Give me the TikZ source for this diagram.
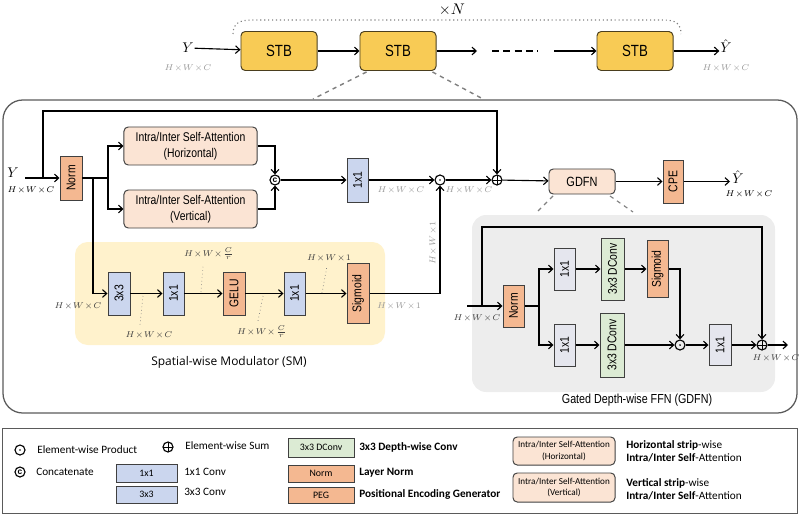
\documentclass[tikz,border=0pt]{standalone}
\usepackage{fontspec}
\setmainfont{Liberation Sans}
\newfontfamily\narrowsf[FakeStretch=0.82]{Liberation Sans}
\newfontfamily\legendsf{Carlito}
\newfontfamily\titlesf{Open Sans}
\usetikzlibrary{arrows.meta}
\definecolor{stbyellow}{HTML}{F8CB55}
\definecolor{stbedge}{HTML}{4A3E1E}
\definecolor{salmon}{HTML}{F4B891}
\definecolor{peach}{HTML}{FBE4D4}
\definecolor{convblue}{HTML}{CBD6EE}
\definecolor{convgray}{HTML}{E5E6EE}
\definecolor{dconvgreen}{HTML}{DCEBD4}
\definecolor{smbg}{HTML}{FFF2CC}
\definecolor{gdfnbg}{HTML}{EDEDED}
\definecolor{edgegray}{HTML}{404040}
\definecolor{dimgray}{HTML}{9A9A9A}
\definecolor{framegray}{HTML}{5A5A5A}
\newcommand{\vlab}[1]{\rotatebox{90}{#1}}
\newcommand{\hwc}{$H\!\times\!W\!\times\!C$}
\newcommand{\hwr}{$H\!\times\!W\!\times\!\frac{C}{r}$}
\newcommand{\hwone}{$H\!\times\!W\!\times\!1$}
\tikzset{
  blk/.style={draw=edgegray, line width=0.7pt, inner sep=0pt, font=\narrowsf\fontsize{9}{10}\selectfont},
  stbbox/.style={blk, fill=stbyellow, draw=stbedge, rounded corners=3pt, minimum width=1.9cm, minimum height=0.975cm, font=\narrowsf\fontsize{11.5}{12}\selectfont},
  attbox/.style={blk, fill=peach, rounded corners=3pt, minimum width=3.325cm, minimum height=0.95cm, align=center, font=\narrowsf\fontsize{9}{11.5}\selectfont},
  normbox/.style={blk, fill=salmon},
  convbox/.style={blk, fill=convblue},
  gconvbox/.style={blk, fill=convgray},
  dconvbox/.style={blk, fill=dconvgreen},
  opnode/.style={circle, draw, line width=0.8pt, minimum size=0.25cm, inner sep=0pt},
  sumop/.style={opnode, path picture={\draw[line width=0.6pt] (path picture bounding box.north) -- (path picture bounding box.south) (path picture bounding box.west) -- (path picture bounding box.east);}},
  prodop/.style={opnode, path picture={\fill (path picture bounding box.center) circle (0.7pt);}},
  catop/.style={opnode, font=\bfseries\fontsize{6}{6}\selectfont},
  arr/.style={-{Straight Barb[length=3pt,width=5.5pt]}, line width=0.8pt},
  link/.style={line width=0.8pt},
  mathlab/.style={inner sep=0.5pt, font=\fontsize{10}{11}\selectfont},
  dimlab/.style={inner sep=0.5pt, font=\fontsize{6}{7}\selectfont, text=dimgray},
  smlab/.style={inner sep=0.5pt, font=\fontsize{6}{7}\selectfont, text=edgegray},
  leader/.style={dotted, gray, line width=0.5pt},
  zoomline/.style={dashed, gray, line width=1pt},
  lgtext/.style={anchor=west, inner sep=0pt, font=\legendsf\fontsize{8}{9.5}\selectfont, align=left},
  lgbox/.style={draw=edgegray, line width=0.7pt, inner sep=0pt, font=\legendsf\fontsize{7}{8}\selectfont}
}
\begin{document}
\begin{tikzpicture}[x=0.025cm,y=-0.025cm]
\useasboundingbox (0,0) rectangle (800,519);
% top chain
\node[stbbox] (stbA) at (279,51) {STB};
\node[stbbox] (stbB) at (398,51) {STB};
\node[stbbox] (stbC) at (635,51) {STB};
\node[mathlab] (ytop) at (188,48) {$Y$};
\node[dimlab] at (188,68) {\hwc};
\node[mathlab] (ytophat) at (726,46) {$\hat{Y}$};
\node[dimlab] at (726,68) {\hwc};
\node[mathlab, font=\fontsize{11}{12}\selectfont] (times) at (452,10) {$\times N$};
\coordinate (chainA) at (477,51);
\coordinate (dashA) at (492,51);
\coordinate (dashB) at (538,51);
\coordinate (chainB) at (554,51);
\draw[arr] (ytop) -- (stbA);
\draw[arr] (stbA) -- (stbB);
\draw[arr] (stbB) -- (chainA);
\draw[line width=1.2pt, dash pattern=on 5pt off 3pt] (dashA) -- (dashB);
\draw[arr] (chainB) -- (stbC);
\draw[arr] (stbC) -- (ytophat.west |- stbC);
\draw[dotted, gray, line width=0.8pt] (233,34) .. controls (233,23) and (240,20) .. (252,20) -- (664,20) .. controls (676,20) and (681,24) .. (681,34);
% block frame
\draw[framegray, line width=0.9pt, rounded corners=14pt] (3,100) rectangle (797,413);
\draw[zoomline] (stbB.south west) ++(7,1) -- (313,99);
\draw[zoomline] (stbB.south east) ++(-4,1) -- (483,99);
\fill[smbg, rounded corners=9pt] (75,242) rectangle (385,345);
\fill[gdfnbg, rounded corners=10pt] (472,215) rectangle (775,392);
% main path
\node[mathlab] (yin) at (13,173) {$Y$};
\node[smlab, text=black] at (31,190) {\hwc};
\coordinate (yinstart) at (25,178);
\coordinate (resid) at (43,178);
\coordinate (residtop) at (43,111);
\coordinate (smsplit) at (93,178);
\coordinate (split) at (108,178);
\node[normbox, minimum width=0.55cm, minimum height=1.1cm] (norm) at (71,178) {\vlab{Norm}};
\node[attbox] (attH) at (190.5,146) {Intra/Inter Self-Attention\\(Horizontal)};
\node[attbox] (attV) at (190.5,209) {Intra/Inter Self-Attention\\(Vertical)};
\node[catop] (cat) at (275,180) {c};
\node[convbox, minimum width=0.525cm, minimum height=1.1cm] (conv) at (357.5,180) {\vlab{1x1}};
\node[prodop] (prod) at (440,180) {};
\node[sumop] (sum) at (497,180) {};
\node[attbox, minimum width=1.65cm, minimum height=0.625cm, font=\narrowsf\fontsize{9.5}{10}\selectfont] (gdfn) at (582,181.5) {GDFN};
\node[normbox, minimum width=0.5cm, minimum height=1.075cm] (cpe) at (673,181.5) {\vlab{CPE}};
\coordinate (yout) at (730,181.5);
\node[mathlab] (youthat) at (738,177) {$\hat{Y}$};
\node[smlab, text=black] at (749,194) {\hwc};
\node[dimlab] at (401,190) {\hwc};
\node[dimlab] at (469,190) {\hwc};
\draw[arr] (yinstart) -- (norm);
\draw[arr] (resid) -- (residtop) -| (sum);
\draw[link] (norm) -- (split);
\draw[arr] (split) |- (attH);
\draw[arr] (split) |- (attV);
\draw[arr] (attH) -| (cat);
\draw[arr] (attV) -| (cat);
\draw[arr] (cat) -- (conv);
\draw[arr] (conv) -- (prod);
\draw[arr] (prod) -- (sum);
\draw[arr] (sum) -- (gdfn);
\draw[arr] (gdfn) -- (cpe);
\draw[arr] (cpe) -- (yout);
\draw[zoomline, line width=0.8pt] (553,196) -- (537,212);
\draw[zoomline, line width=0.8pt] (610,196) -- (633,212);
% spatial-wise modulator
\node[convbox, minimum width=0.55cm, minimum height=1.075cm] (smconvA) at (119,293.5) {\vlab{3x3}};
\node[convbox, minimum width=0.525cm, minimum height=1.075cm] (smconvB) at (173.5,293.5) {\vlab{1x1}};
\node[normbox, minimum width=0.55cm, minimum height=1.075cm] (gelu) at (234,293.5) {\vlab{GELU}};
\node[convbox, minimum width=0.525cm, minimum height=1.075cm] (smconvC) at (294.5,293.5) {\vlab{1x1}};
\node[normbox, minimum width=0.55cm, minimum height=1.5cm] (smsig) at (358,293.5) {\vlab{Sigmoid}};
\draw[arr] (smsplit) |- (smconvA);
\draw[arr] (smconvA) -- (smconvB);
\draw[arr] (smconvB) -- (gelu);
\draw[arr] (gelu) -- (smconvC);
\draw[arr] (smconvC) -- (smsig);
\draw[arr] (smsig) -| (prod);
\node[smlab] at (78,306) {\hwc};
\node[smlab] at (149,335) {\hwc};
\node[smlab] at (209,254) {\hwr};
\node[smlab] at (262,332) {\hwr};
\node[smlab] at (329,258) {\hwone};
\node[dimlab] at (399,306) {\hwone};
\node[dimlab, rotate=90] at (433,243) {\hwone};
\draw[leader] (143,296) -- (140,325);
\draw[leader] (201,292) -- (203,266);
\draw[leader] (263,296) -- (258,321);
\draw[leader] (322,293) -- (327,266);
\node[font=\titlesf\fontsize{8.5}{10}\selectfont] (smtitle) at (229,362) {Spatial-wise Modulator (SM)};
% gated depth-wise ffn
\coordinate (gin) at (467,306);
\coordinate (gres) at (482,306);
\coordinate (grestop) at (482,227);
\coordinate (gsplit) at (539,306);
\coordinate (gout) at (788,345);
\node[normbox, minimum width=0.525cm, minimum height=1.05cm] (gnorm) at (513.5,306) {\vlab{Norm}};
\node[gconvbox, minimum width=0.525cm, minimum height=1.05cm] (gconvA) at (564.5,269) {\vlab{1x1}};
\node[gconvbox, minimum width=0.525cm, minimum height=1.05cm] (gconvB) at (564.5,345) {\vlab{1x1}};
\node[dconvbox, minimum width=0.575cm, minimum height=1.55cm] (gdconvA) at (612.5,269) {\vlab{3x3 DConv}};
\node[dconvbox, minimum width=0.6cm, minimum height=1.6cm] (gdconvB) at (612,345) {\vlab{3x3 DConv}};
\node[normbox, minimum width=0.525cm, minimum height=1.425cm] (gsig) at (657.5,269) {\vlab{Sigmoid}};
\node[prodop] (gprod) at (680,345) {};
\node[gconvbox, minimum width=0.55cm, minimum height=1.025cm] (gconvC) at (720,345) {\vlab{1x1}};
\node[sumop] (gsum) at (762,345) {};
\node[smlab] at (477,318) {\hwc};
\node[smlab] at (776,358) {\hwc};
\draw[arr] (gin) -- (gnorm);
\draw[arr] (gres) -- (grestop) -| (gsum);
\draw[link] (gnorm) -- (gsplit);
\draw[arr] (gsplit) |- (gconvA);
\draw[arr] (gsplit) |- (gconvB);
\draw[arr] (gconvA) -- (gdconvA);
\draw[arr] (gdconvA) -- (gsig);
\draw[arr] (gsig) -| (gprod);
\draw[arr] (gconvB) -- (gdconvB);
\draw[arr] (gdconvB) -- (gprod);
\draw[arr] (gprod) -- (gconvC);
\draw[arr] (gconvC) -- (gsum);
\draw[arr] (gsum) -- (gout);
\node[font=\narrowsf\fontsize{9.3}{10}\selectfont] (gtitle) at (637,400) {Gated Depth-wise FFN (GDFN)};
% legend
\draw[framegray, line width=0.6pt] (2,428) rectangle (797,513);
\node[prodop] (lgprod) at (20,450) {};
\node[lgtext] at (37,450) {Element-wise Product};
\node[sumop] (lgsum) at (168,447) {};
\node[lgtext] at (185,446) {Element-wise Sum};
\node[catop] (lgcat) at (20,472) {c};
\node[lgtext] at (36,472) {Concatenate};
\node[lgbox, fill=convblue, minimum width=1.525cm, minimum height=0.45cm] (lgconvA) at (146.5,473) {1x1};
\node[lgtext] at (184,472) {1x1 Conv};
\node[lgbox, fill=convblue, minimum width=1.525cm, minimum height=0.425cm] (lgconvB) at (146.5,494.5) {3x3};
\node[lgtext] at (184,492) {3x3 Conv};
\node[lgbox, fill=dconvgreen, minimum width=1.65cm, minimum height=0.475cm] (lgdconv) at (321,447.5) {3x3 DConv};
\node[lgtext] at (359,447) {\textbf{3x3 Depth-wise Conv}};
\node[lgbox, fill=salmon, minimum width=1.65cm, minimum height=0.425cm] (lgnorm) at (321,473.5) {Norm};
\node[lgtext] at (359,473) {\textbf{Layer Norm}};
\node[lgbox, fill=salmon, minimum width=1.65cm, minimum height=0.4cm] (lgpeg) at (321,495) {PEG};
\node[lgtext] at (359,494) {\textbf{Positional Encoding Generator}};
\node[lgbox, fill=peach, rounded corners=3pt, minimum width=2.55cm, minimum height=0.7cm, align=center, font=\legendsf\fontsize{6.5}{8}\selectfont] (lgattH) at (564,451) {Intra/Inter Self-Attention\\(Horizontal)};
\node[lgbox, fill=peach, rounded corners=3pt, minimum width=2.55cm, minimum height=0.725cm, align=center, font=\legendsf\fontsize{6.5}{8}\selectfont] (lgattV) at (564,487.5) {Intra/Inter Self-Attention\\(Vertical)};
\node[lgtext] at (626,451.5) {\textbf{Horizontal strip}-wise\\\textbf{Intra/Inter Self}-Attention};
\node[lgtext] at (626,489) {\textbf{Vertical strip}-wise\\\textbf{Intra/Inter Self}-Attention};
\end{tikzpicture}
\end{document}
